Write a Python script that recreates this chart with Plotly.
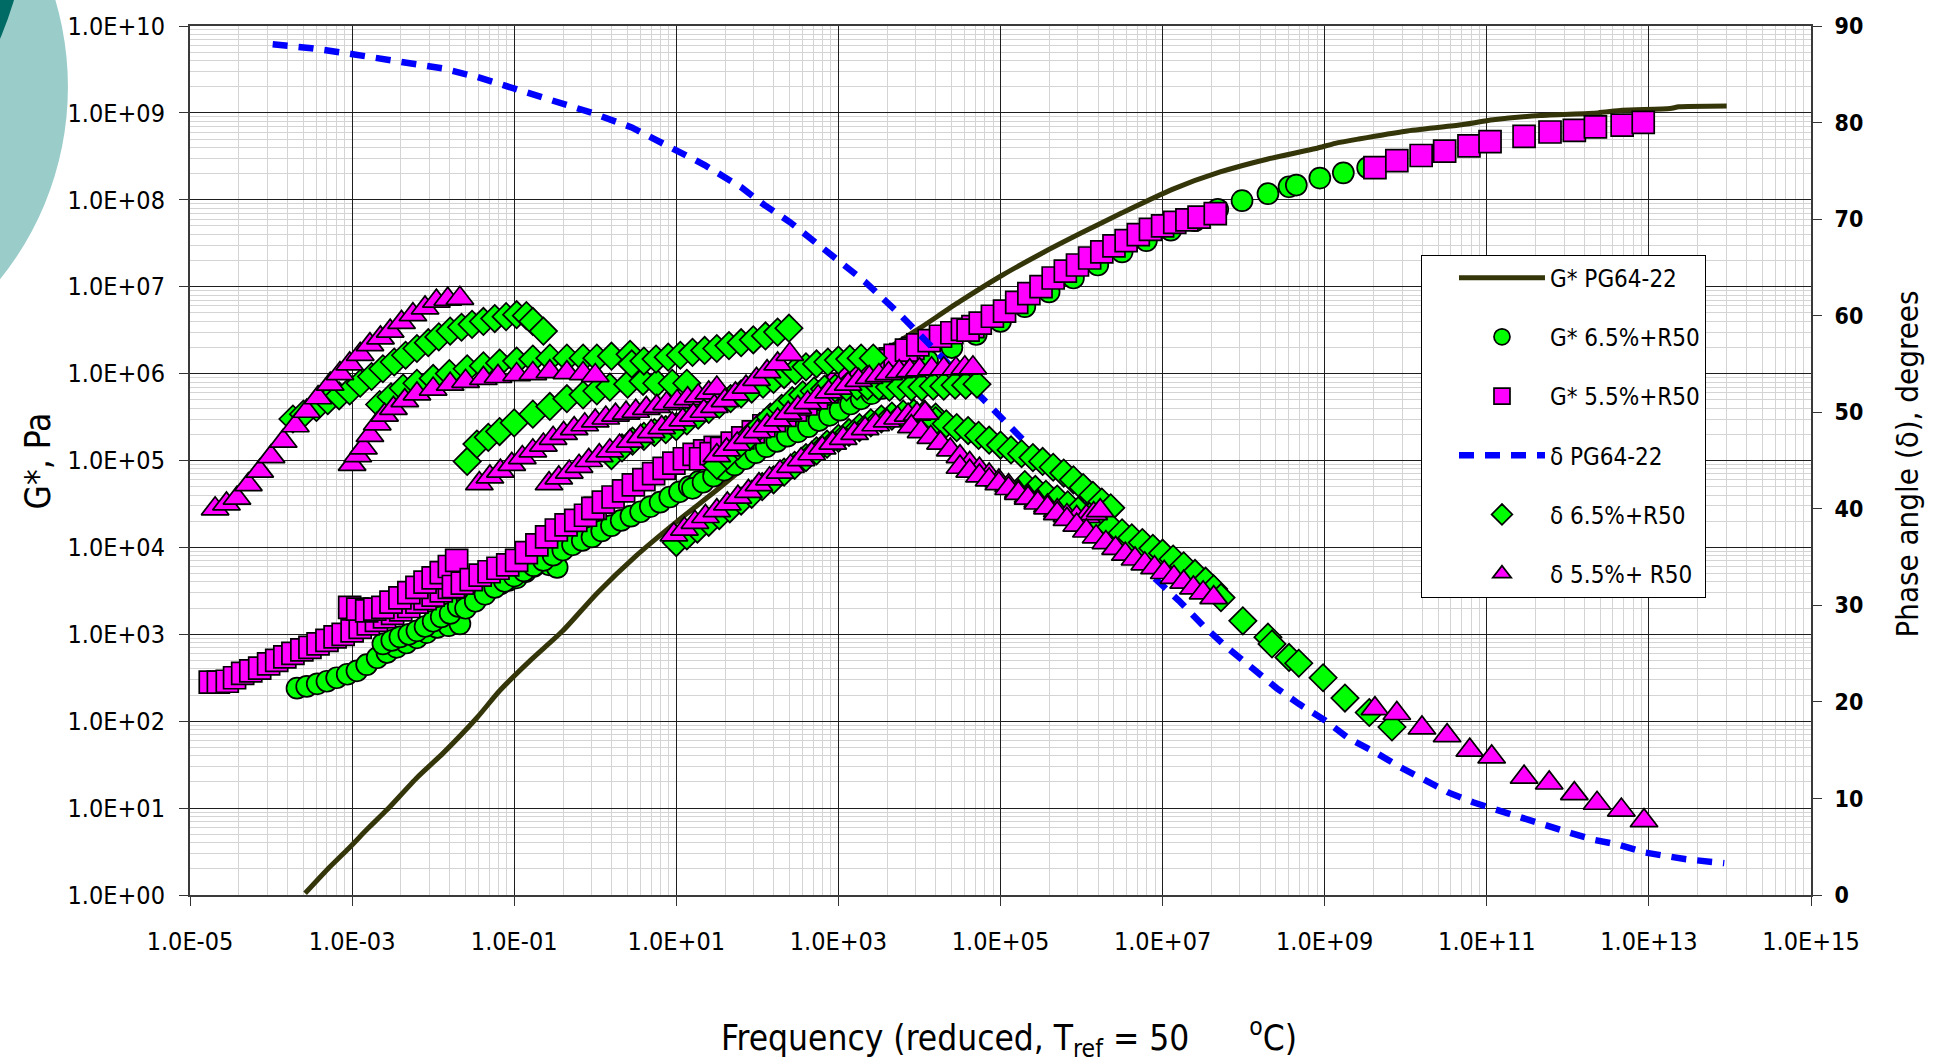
import numpy as np
import plotly.graph_objects as go

FONT = "Liberation Sans Narrow, Arial Narrow, DejaVu Sans Condensed, sans-serif"

# ---------------- data ----------------
# x values are log10(reduced frequency); G* values are log10(Pa); delta values are degrees

# G* PG64-22 (solid line)
pg_g_lx = [-3.58, -3.3, -3.06, -2.8, -2.57, -2.2, -1.88, -1.46, -1.18, -0.8, -0.4, 0.02, 0.5,
           1.01, 1.5, 2.03, 2.5, 3.0, 3.5, 4.0, 4.5, 5.0, 5.5, 6.0, 6.5, 7.12, 7.71,
           8.3, 8.89, 9.13, 9.42, 10.0, 10.66, 11.08, 11.66, 12.37, 12.67, 13.26, 13.37, 13.96]
pg_g_lg = [0.02, 0.3, 0.52, 0.77, 0.98, 1.35, 1.63, 2.04, 2.35, 2.7, 3.04, 3.47, 3.9,
           4.3, 4.66, 5.07, 5.45, 5.83, 6.22, 6.52, 6.83, 7.12, 7.38, 7.62, 7.85, 8.12, 8.32,
           8.47, 8.59, 8.65, 8.7, 8.79, 8.86, 8.92, 8.97, 9.0, 9.03, 9.05, 9.07, 9.08]

# delta PG64-22 (dashed line)
pg_d_lx = [-3.98, -3.5, -3.01, -2.45, -1.88, -1.45, -1.0, -0.5, -0.04, 0.45, 0.87, 1.35, 1.8,
           2.08, 2.4, 2.69, 3.0, 3.33, 3.75, 4.2, 4.77, 5.08, 5.39, 5.8, 6.3, 6.89, 7.2, 7.5,
           7.8, 8.12, 8.41, 8.68, 9.0, 9.3, 9.62, 9.94, 10.24, 10.53, 10.83, 11.12, 11.45,
           11.74, 12.04, 12.33, 12.63, 12.95, 13.46, 13.93]
pg_d_deg = [88.1, 87.7, 87.1, 86.4, 85.6, 84.7, 83.5, 82.3, 81.0, 79.5, 77.7, 75.6, 73.3,
            71.5, 69.7, 67.7, 65.7, 63.5, 60.2, 56.3, 51.4, 48.8, 46.2, 43.5, 38.5, 32.9, 30.5,
            27.9, 25.6, 23.4, 21.4, 19.8, 18.1, 16.2, 14.8, 13.2, 11.9, 10.6, 9.6, 8.8, 8.0,
            7.2, 6.4, 5.7, 5.2, 4.4, 3.7, 3.3]

# G* 6.5%+R50 (circles), one list per test temperature
c65_lx = [
    [-3.68, -3.56, -3.43, -3.31, -3.19, -3.06, -2.94, -2.82, -2.69, -2.57, -2.45, -2.33, -2.2, -2.08, -1.95, -1.81, -1.67],
    [-2.62, -2.51, -2.41, -2.3, -2.2, -2.1, -2.0, -1.9, -1.79, -1.69, -1.58, -1.48, -1.38, -1.28, -1.17, -1.07, -0.97, -0.86, -0.76, -0.68, -0.57, -0.47],
    [-1.6, -1.48, -1.36, -1.24, -1.12, -1.0, -0.88, -0.76, -0.64, -0.52, -0.4, -0.28, -0.16, -0.04, 0.08, 0.2, 0.32, 0.44, 0.56, 0.68, 0.8, 0.92, 1.04, 1.16, 1.28, 1.4, 1.53],
    [1.2, 1.33, 1.46, 1.59, 1.72, 1.85, 1.98, 2.11, 2.24, 2.37, 2.5, 2.63, 2.76, 2.89, 3.02, 3.15, 3.28, 3.41, 3.54, 3.67, 3.8, 3.93],
    [3.8, 4.1, 4.4, 4.7, 5.0, 5.3, 5.6, 5.9, 6.2, 6.5, 6.8, 7.1, 7.4],
    [7.68, 7.98, 8.3, 8.56, 8.65, 8.94, 9.23, 9.53],
]
c65_lg = [
    [2.38, 2.4, 2.43, 2.46, 2.5, 2.54, 2.58, 2.65, 2.73, 2.79, 2.85, 2.9, 2.96, 3.02, 3.08, 3.1, 3.12],
    [2.89, 2.93, 2.97, 3.0, 3.04, 3.09, 3.15, 3.2, 3.24, 3.32, 3.4, 3.45, 3.5, 3.54, 3.58, 3.62, 3.65, 3.72, 3.78, 3.82, 3.8, 3.77],
    [3.3, 3.38, 3.46, 3.54, 3.61, 3.67, 3.73, 3.79, 3.85, 3.91, 3.97, 4.03, 4.08, 4.12, 4.19, 4.25, 4.31, 4.36, 4.41, 4.47, 4.52, 4.58, 4.64, 4.7, 4.76, 4.82, 4.88],
    [4.68, 4.75, 4.82, 4.89, 4.95, 5.02, 5.09, 5.16, 5.22, 5.28, 5.33, 5.39, 5.46, 5.52, 5.58, 5.65, 5.71, 5.77, 5.83, 5.9, 5.96, 6.02],
    [6.0, 6.15, 6.3, 6.45, 6.6, 6.77, 6.94, 7.1, 7.25, 7.4, 7.53, 7.65, 7.76],
    [7.89, 7.99, 8.07, 8.15, 8.17, 8.25, 8.31, 8.37],
]

# G* 5.5%+R50 (squares)
s55_lx = [
    [-4.75, -4.65, -4.54, -4.45, -4.35, -4.25, -4.14, -4.03, -3.93, -3.83, -3.73, -3.62, -3.52, -3.42, -3.31, -3.21, -3.11, -3.0, -2.9, -2.8, -2.7, -2.6, -2.5, -2.4, -2.3, -2.2, -2.1, -2.0, -1.9, -1.8],
    [-3.03, -2.93, -2.82, -2.72, -2.62, -2.52, -2.41, -2.3, -2.2, -2.1, -2.0, -1.9, -1.8, -1.71],
    [-1.75, -1.64, -1.53, -1.42, -1.31, -1.2, -1.08, -0.97, -0.85, -0.72, -0.6, -0.48, -0.36, -0.24, -0.12, 0.0],
    [-0.03, 0.1, 0.22, 0.35, 0.47, 0.6, 0.72, 0.85, 0.97, 1.1, 1.22, 1.35, 1.48],
    [1.3, 1.43, 1.56, 1.69, 1.82, 1.95, 2.08, 2.21, 2.34, 2.47, 2.6, 2.73, 2.86, 2.99, 3.12, 3.25, 3.38, 3.51, 3.64, 3.77, 3.92],
    [3.0, 3.14, 3.28, 3.42, 3.56, 3.7, 3.84, 3.98, 4.12, 4.26, 4.4, 4.53, 4.66],
    [4.6, 4.75, 4.9, 5.05, 5.2, 5.35, 5.5, 5.65, 5.8, 5.95, 6.1, 6.25, 6.4, 6.55, 6.7, 6.85, 7.0, 7.15, 7.3, 7.45, 7.65],
    [9.62, 9.89, 10.19, 10.48, 10.78, 11.04, 11.46, 11.78, 12.08, 12.34, 12.67, 12.93],
]
s55_lg = [
    [2.45, 2.45, 2.46, 2.5, 2.55, 2.58, 2.61, 2.66, 2.7, 2.74, 2.78, 2.82, 2.85, 2.89, 2.93, 2.97, 3.0, 3.04, 3.08, 3.12, 3.16, 3.2, 3.24, 3.28, 3.32, 3.37, 3.41, 3.45, 3.5, 3.54],
    [3.31, 3.29, 3.27, 3.29, 3.31, 3.37, 3.42, 3.48, 3.54, 3.6, 3.65, 3.71, 3.78, 3.85],
    [3.55, 3.59, 3.63, 3.68, 3.72, 3.76, 3.8, 3.85, 3.94, 4.03, 4.12, 4.2, 4.26, 4.31, 4.37, 4.45],
    [4.45, 4.52, 4.58, 4.65, 4.72, 4.78, 4.85, 4.91, 4.97, 5.02, 5.07, 5.11, 5.15],
    [5.02, 5.08, 5.14, 5.2, 5.26, 5.33, 5.4, 5.46, 5.52, 5.58, 5.65, 5.72, 5.79, 5.86, 5.93, 6.0, 6.06, 6.12, 6.17, 6.22, 6.29],
    [5.88, 5.95, 6.02, 6.09, 6.15, 6.21, 6.27, 6.33, 6.38, 6.43, 6.47, 6.51, 6.54],
    [6.5, 6.58, 6.66, 6.72, 6.82, 6.92, 7.0, 7.1, 7.18, 7.25, 7.33, 7.4, 7.47, 7.53, 7.6, 7.66, 7.7, 7.74, 7.77, 7.8, 7.84],
    [8.37, 8.45, 8.51, 8.56, 8.62, 8.67, 8.73, 8.78, 8.8, 8.84, 8.86, 8.89],
]

# delta 6.5%+R50 (diamonds), degrees
d65_lx = [
    [-3.73, -3.6, -3.44, -3.3, -3.16, -3.03, -2.9, -2.76, -2.62, -2.48, -2.34, -2.2, -2.06, -1.93, -1.79, -1.65, -1.52, -1.38, -1.24, -1.1, -0.97, -0.85, -0.77, -0.64],
    [-2.66, -2.52, -2.37, -2.2, -2.0, -1.8, -1.58, -1.38, -1.18, -0.97, -0.77, -0.56, -0.35, -0.15, 0.02, 0.2, 0.43],
    [-1.58, -1.46, -1.32, -1.18, -1.0, -0.77, -0.56, -0.35, -0.15, 0.02, 0.18, 0.4, 0.59, 0.76, 0.95, 1.13],
    [0.45, 0.6, 0.75, 0.9, 1.05, 1.2, 1.35, 1.5, 1.65, 1.8, 1.95, 2.1, 2.25, 2.39],
    [0.2, 0.33, 0.46, 0.6, 0.73, 0.87, 1.0, 1.13, 1.27, 1.4, 1.53, 1.67, 1.8, 1.93, 2.07, 2.2, 2.33, 2.47, 2.6, 2.73, 2.87, 3.0, 3.14, 3.28, 3.43],
    [1.5, 1.63, 1.76, 1.9, 2.03, 2.16, 2.3, 2.43, 2.56, 2.7, 2.83, 2.96, 3.1, 3.23, 3.36, 3.5, 3.63, 3.76, 3.9, 4.03, 4.17, 4.3, 4.44, 4.57, 4.71],
    [1.0, 1.13, 1.26, 1.4, 1.53, 1.66, 1.8, 1.93, 2.06, 2.2, 2.33, 2.46, 2.6, 2.73, 2.86, 3.0, 3.13, 3.26, 3.4, 3.53, 3.66, 3.8, 3.93, 4.06, 4.2],
    [4.2, 4.33, 4.46, 4.6, 4.73, 4.86, 5.0, 5.13, 5.26, 5.4, 5.52, 5.65, 5.78, 5.9, 6.02, 6.14, 6.25, 6.36],
    [5.3, 5.43, 5.56, 5.7, 5.83, 5.96, 6.1, 6.23, 6.36, 6.5, 6.62, 6.75, 6.88, 7.0, 7.13, 7.26, 7.4, 7.53, 7.63, 7.72],
    [7.99, 8.3, 8.35, 8.56, 8.68, 8.98, 9.25, 9.55, 9.83],
]
d65_deg = [
    [49.3, 49.8, 50.5, 51.2, 51.7, 52.2, 53.0, 53.7, 54.5, 55.2, 55.9, 56.6, 57.2, 57.8, 58.4, 58.8, 59.1, 59.4, 59.7, 59.9, 60.1, 60.0, 59.4, 58.4],
    [50.8, 51.6, 52.5, 53.0, 53.5, 54.0, 54.5, 54.8, 55.1, 55.3, 55.5, 55.6, 55.6, 55.6, 55.6, 55.8, 56.0],
    [44.9, 46.7, 47.4, 48.0, 48.9, 49.8, 50.6, 51.4, 51.8, 52.2, 52.6, 52.9, 53.2, 53.0, 53.0, 53.0],
    [55.0, 55.3, 55.5, 55.7, 55.9, 56.2, 56.4, 56.6, 56.9, 57.2, 57.5, 57.9, 58.3, 58.7],
    [45.5, 46.3, 47.0, 47.5, 47.9, 48.2, 48.5, 49.1, 49.7, 50.3, 50.8, 51.4, 51.9, 52.4, 52.9, 53.4, 53.9, 54.3, 54.7, 55.0, 55.2, 55.4, 55.5, 55.6, 55.6],
    [44.5, 45.5, 46.5, 47.5, 48.5, 49.5, 50.4, 51.2, 51.8, 52.2, 52.4, 52.5, 52.6, 52.7, 52.7, 52.7, 52.6, 52.6, 52.6, 52.6, 52.7, 52.7, 52.8, 52.8, 52.9],
    [36.5, 37.2, 37.9, 38.6, 39.3, 40.0, 40.8, 41.5, 42.3, 43.0, 43.8, 44.5, 45.3, 46.0, 46.7, 47.3, 47.9, 48.4, 48.9, 49.3, 49.6, 49.8, 49.9, 49.8, 49.5],
    [49.1, 48.8, 48.4, 48.1, 47.6, 47.1, 46.6, 46.1, 45.7, 45.3, 44.9, 44.3, 43.7, 43.0, 42.2, 41.4, 40.7, 40.1],
    [42.5, 42.0, 41.5, 41.0, 40.4, 39.8, 39.2, 38.6, 38.1, 37.5, 37.0, 36.5, 35.9, 35.4, 34.8, 34.1, 33.3, 32.5, 31.7, 30.8],
    [28.4, 26.7, 26.0, 24.6, 24.0, 22.5, 20.4, 18.9, 17.4],
]

# delta 5.5%+ R50 (triangles), degrees
t55_lx = [
    [-4.69, -4.55, -4.42, -4.28, -4.14, -4.0, -3.85, -3.7, -3.56, -3.42, -3.27, -3.15, -3.03, -2.9, -2.78, -2.65, -2.53, -2.39, -2.25, -2.1, -1.96, -1.82, -1.67],
    [-3.0, -2.93, -2.86, -2.78, -2.69, -2.6, -2.49, -2.35, -2.2, -2.0, -1.79, -1.6, -1.38, -1.2, -0.97, -0.77, -0.56, -0.35, -0.15, 0.0],
    [-1.43, -1.3, -1.17, -1.03, -0.9, -0.77, -0.64, -0.52, -0.39, -0.26, -0.13, 0.0, 0.13, 0.25, 0.38, 0.5, 0.63, 0.76, 0.88, 1.01, 1.14, 1.27, 1.4, 1.5],
    [-0.57, -0.45, -0.32, -0.2, -0.08, 0.05, 0.18, 0.3, 0.43, 0.56, 0.69, 0.82, 0.95, 1.08, 1.21, 1.34, 1.47, 1.6, 1.73, 1.86, 1.99, 2.12, 2.25, 2.4],
    [1.5, 1.62, 1.75, 1.88, 2.0, 2.12, 2.25, 2.38, 2.5, 2.62, 2.75, 2.88, 3.0, 3.12, 3.25, 3.38, 3.5, 3.62, 3.75, 3.88, 4.0, 4.15, 4.3, 4.45, 4.56, 4.66],
    [0.97, 1.1, 1.23, 1.36, 1.5, 1.63, 1.76, 1.89, 2.02, 2.15, 2.28, 2.41, 2.54, 2.67, 2.8, 2.93, 3.06, 3.2, 3.33, 3.46, 3.6, 3.73, 3.86, 3.97, 4.07],
    [3.9, 4.02, 4.14, 4.26, 4.38, 4.5, 4.62, 4.74, 4.86, 4.98, 5.1, 5.22, 5.34, 5.46, 5.58, 5.7, 5.82, 5.94, 6.06, 6.15, 6.23],
    [4.5, 4.62, 4.74, 4.86, 4.98, 5.1, 5.22, 5.34, 5.46, 5.58, 5.7, 5.82, 5.94, 6.06, 6.18, 6.3, 6.42, 6.54, 6.66, 6.78, 6.9, 7.02, 7.14, 7.26, 7.38, 7.5, 7.63],
    [9.62, 9.89, 10.2, 10.51, 10.79, 11.06, 11.46, 11.77, 12.08, 12.36, 12.66, 12.94],
]
t55_deg = [
    [40.0, 40.5, 41.1, 42.5, 43.9, 45.4, 47.0, 48.6, 50.1, 51.5, 52.9, 54.0, 55.0, 56.0, 57.0, 57.7, 58.4, 59.3, 60.1, 60.8, 61.5, 61.7, 61.8],
    [44.6, 45.5, 46.3, 47.6, 48.8, 49.7, 50.4, 51.2, 51.9, 52.4, 52.9, 53.2, 53.5, 53.7, 53.9, 54.0, 54.2, 54.1, 54.0, 53.8],
    [42.6, 43.3, 43.9, 44.6, 45.3, 46.0, 46.6, 47.3, 47.8, 48.3, 48.7, 49.1, 49.4, 49.7, 49.9, 50.1, 50.4, 50.6, 50.9, 51.1, 51.4, 51.7, 52.0, 52.5],
    [42.6, 43.2, 43.8, 44.4, 45.0, 45.5, 46.0, 46.5, 47.0, 47.5, 48.0, 48.4, 48.8, 49.2, 49.7, 50.1, 50.6, 51.2, 51.9, 52.6, 53.4, 54.2, 55.0, 56.0],
    [45.5, 46.1, 46.7, 47.4, 48.0, 48.6, 49.2, 49.9, 50.5, 51.0, 51.6, 52.1, 52.5, 52.9, 53.3, 53.6, 53.8, 54.0, 54.2, 54.3, 54.4, 54.5, 54.5, 54.5, 54.6, 54.6],
    [37.3, 37.9, 38.6, 39.2, 39.8, 40.5, 41.2, 41.8, 42.5, 43.1, 43.8, 44.4, 45.1, 45.7, 46.3, 46.8, 47.3, 47.8, 48.3, 48.7, 49.1, 49.4, 49.7, 49.8, 49.9],
    [48.5, 48.0, 47.4, 46.8, 46.1, 45.4, 44.7, 44.1, 43.5, 42.9, 42.4, 41.8, 41.3, 40.8, 40.3, 39.8, 39.3, 39.1, 39.2, 39.5, 39.8],
    [44.3, 43.9, 43.4, 43.0, 42.6, 42.1, 41.6, 41.1, 40.6, 40.1, 39.5, 38.9, 38.3, 37.7, 37.1, 36.5, 35.9, 35.3, 34.8, 34.3, 33.9, 33.4, 32.9, 32.4, 31.8, 31.3, 30.8],
    [19.3, 18.8, 17.3, 16.5, 15.0, 14.3, 12.2, 11.6, 10.5, 9.5, 8.8, 7.7],
]

# axis ticks
x_tick_exp = [-5, -3, -1, 1, 3, 5, 7, 9, 11, 13, 15]
x_tick_text = ["1.0E-05", "1.0E-03", "1.0E-01", "1.0E+01", "1.0E+03", "1.0E+05",
               "1.0E+07", "1.0E+09", "1.0E+11", "1.0E+13", "1.0E+15"]
y_tick_exp = [0, 1, 2, 3, 4, 5, 6, 7, 8, 9, 10]
y_tick_text = ["1.0E+00", "1.0E+01", "1.0E+02", "1.0E+03", "1.0E+04", "1.0E+05",
               "1.0E+06", "1.0E+07", "1.0E+08", "1.0E+09", "1.0E+10"]
y2_ticks = [0, 10, 20, 30, 40, 50, 60, 70, 80, 90]


def flat(segs):
    return [v for s in segs for v in s]


def p10(v):
    return np.power(10.0, np.array(v, dtype=float))


fig = go.Figure()

fig.add_trace(go.Scatter(x=p10(pg_g_lx), y=p10(pg_g_lg), mode="lines", name="G* PG64-22",
                         line=dict(color="#35350a", width=5, shape="spline", smoothing=0.6),
                         legendgroup="a"))
fig.add_trace(go.Scatter(x=p10(flat(c65_lx)), y=p10(flat(c65_lg)), mode="markers", name="G* 6.5%+R50",
                         marker=dict(symbol="circle", size=21, color="#00ff00",
                                     line=dict(color="black", width=1.7)), legendgroup="b"))
fig.add_trace(go.Scatter(x=p10(flat(s55_lx)), y=p10(flat(s55_lg)), mode="markers", name="G* 5.5%+R50",
                         marker=dict(symbol="square", size=22, color="#ff00ff",
                                     line=dict(color="black", width=1.7)), legendgroup="c"))
fig.add_trace(go.Scatter(x=p10(pg_d_lx), y=pg_d_deg, mode="lines", name="δ PG64-22", yaxis="y2",
                         line=dict(color="#0000ff", width=6.5, dash="15px,11px"), legendgroup="d"))
fig.add_trace(go.Scatter(x=p10(flat(d65_lx)), y=flat(d65_deg), mode="markers", name="δ 6.5%+R50", yaxis="y2",
                         marker=dict(symbol="diamond", size=21, color="#00ff00",
                                     line=dict(color="black", width=1.7)), legendgroup="e"))
fig.add_trace(go.Scatter(x=p10(flat(t55_lx)), y=flat(t55_deg), mode="markers", name="δ 5.5%+ R50", yaxis="y2",
                         marker=dict(symbol="triangle-up", size=24, color="#ff00ff",
                                     line=dict(color="black", width=1.7)), legendgroup="f"))

x_minor = [k * k * 10.0 ** n for n in range(-5, 15, 2) for k in range(2, 10)]
y_minor = [k * 10.0 ** n for n in range(0, 10) for k in range(2, 10)]

GRID = "#1e1e1e"
MINOR = "#d4d4d4"

fig.update_layout(
    width=1938, height=1064, autosize=False,
    margin=dict(l=190, r=127, t=24, b=169),
    paper_bgcolor="white", plot_bgcolor="white",
    font=dict(family=FONT, color="black"),
    showlegend=True,
    legend=dict(x=0.7594, y=0.737, xanchor="left", yanchor="top",
                bgcolor="white", bordercolor="black", borderwidth=1,
                font=dict(family=FONT, size=24, color="black"),
                traceorder="grouped", tracegroupgap=25, itemwidth=86, indentation=32,
                itemsizing="trace"),
    xaxis=dict(type="log", range=[-5, 15], tickmode="array",
               tickvals=[10.0 ** e for e in x_tick_exp], ticktext=x_tick_text,
               ticks="outside", ticklen=9, tickwidth=1, tickcolor="#333",
               tickfont=dict(family=FONT, size=25), ticklabelstandoff=14,
               showgrid=True, gridcolor=GRID, gridwidth=1,
               showline=True, linecolor="#3a3a3a", linewidth=2, mirror=True,
               zeroline=False,
               minor=dict(tickmode="array", tickvals=x_minor, showgrid=True,
                          gridcolor=MINOR, gridwidth=1, ticks="")),
    yaxis=dict(type="log", range=[0, 10], tickmode="array",
               tickvals=[10.0 ** e for e in y_tick_exp], ticktext=y_tick_text,
               ticks="outside", ticklen=9, tickwidth=1, tickcolor="#333",
               tickfont=dict(family=FONT, size=25), ticklabelstandoff=9,
               showgrid=True, gridcolor=GRID, gridwidth=1,
               showline=True, linecolor="#3a3a3a", linewidth=2,
               zeroline=False,
               minor=dict(tickmode="array", tickvals=y_minor, showgrid=True,
                          gridcolor=MINOR, gridwidth=1, ticks="")),
    yaxis2=dict(overlaying="y", side="right", range=[0, 90], tickmode="array",
                tickvals=y2_ticks, ticks="outside", ticklen=9, tickcolor="#333",
                tickfont=dict(family=FONT, size=23, weight="bold"), ticklabelstandoff=8,
                showgrid=False, zeroline=False,
                showline=True, linecolor="#3a3a3a", linewidth=2),
    annotations=[
        dict(xref="paper", yref="paper", x=0.505, y=-0.164, showarrow=False,
             text="Frequency (reduced, T<sub>ref</sub> = 50\u00a0\u00a0\u00a0\u00a0\u00a0\u00a0<sup>o</sup>C)",
             font=dict(family=FONT, size=35), xanchor="center", yanchor="middle"),
        dict(xref="paper", yref="paper", x=-0.0938, y=0.5, showarrow=False, textangle=-90,
             text="G*, Pa", font=dict(family=FONT, size=35), xanchor="center", yanchor="middle"),
        dict(xref="paper", yref="paper", x=1.059, y=0.496, showarrow=False, textangle=-90,
             text="Phase angle (δ), degrees", font=dict(family=FONT, size=31),
             xanchor="center", yanchor="middle"),
    ],
    shapes=[
        dict(type="circle", xref="paper", yref="paper", x0=-0.4553, x1=-0.0753,
             y0=0.5764, y1=1.2836, fillcolor="#9accca", line=dict(width=0), layer="below"),
        dict(type="circle", xref="paper", yref="paper", x0=-0.5293, x1=-0.0999,
             y0=0.7428, y1=1.5419, fillcolor="#006a64", line=dict(width=0), layer="below"),
    ],
)

fig.write_html("out.html", config={"displayModeBar": False},
               post_script="document.body.style.margin='0px';document.body.style.padding='0px';")
